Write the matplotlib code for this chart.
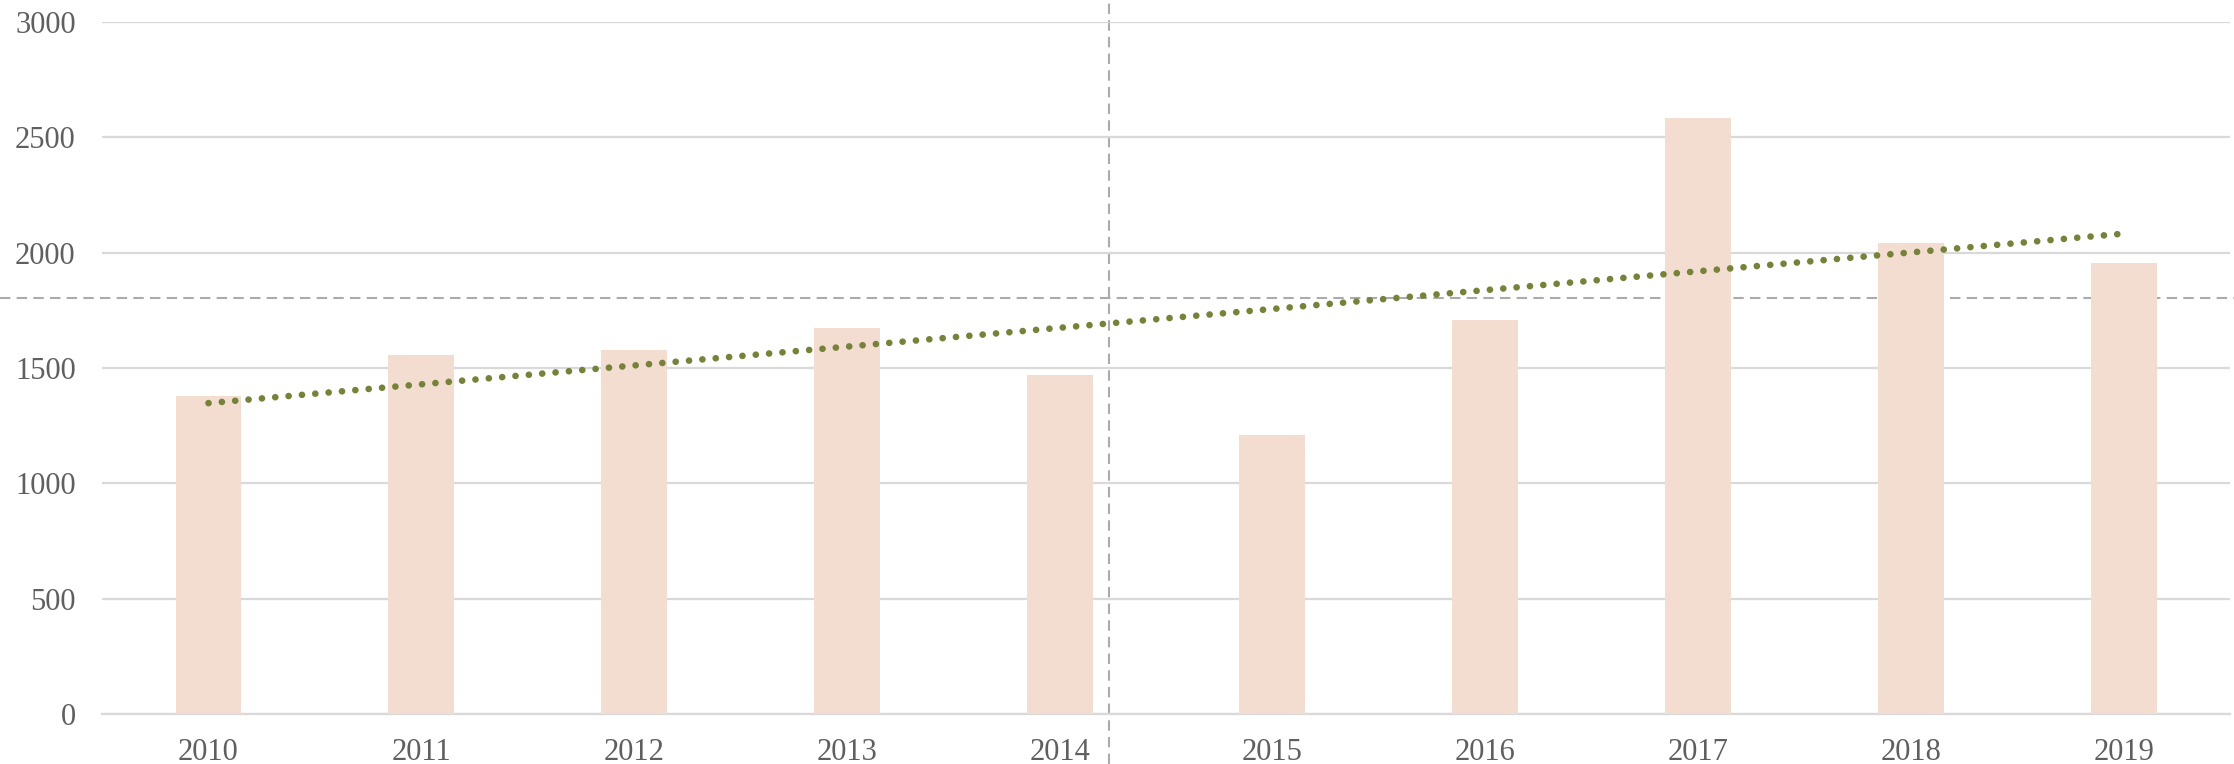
import numpy as np
import matplotlib

matplotlib.use("Agg")
import matplotlib.pyplot as plt
from matplotlib.lines import Line2D

years = ["2010", "2011", "2012", "2013", "2014", "2015", "2016", "2017", "2018", "2019"]
values = [1380, 1555, 1576, 1672, 1471, 1211, 1706, 2582, 2043, 1956]
y_ticks = [0, 500, 1000, 1500, 2000, 2500, 3000]

BAR_COLOR = "#f3ddd1"
TREND_COLOR = "#76823a"
GRID_COLOR = "#d9d9d9"
TEXT_COLOR = "#5f5f5f"
CROSS_COLOR = "#ababab"

plt.rcParams["font.family"] = ["Liberation Serif", "DejaVu Serif"]

fig = plt.figure(figsize=(22.34, 7.64), dpi=100)
ax = fig.add_axes([0.0457, 0.0654, 0.9525, 0.9058])

x = np.arange(len(years))
ax.bar(x, values, width=0.31, color=BAR_COLOR, zorder=3)

# linear trend through the yearly totals
slope, intercept = np.polyfit(x, values, 1)
ax.plot(x, slope * x + intercept, color=TREND_COLOR, lw=4.8,
        linestyle=(0, (0.01, 2.0)), dash_capstyle="round", zorder=4)

ax.set_xlim(-0.5, len(years) - 0.5)
ax.set_ylim(0, 3000)
ax.set_yticks(y_ticks)
ax.set_yticklabels([str(t) for t in y_ticks])
ax.set_xticks(x)
ax.set_xticklabels(years)
ax.yaxis.grid(True, color=GRID_COLOR, lw=1.6, zorder=0)
ax.set_axisbelow(True)
ax.tick_params(axis="both", length=0, labelsize=22, labelcolor=TEXT_COLOR)
ax.tick_params(axis="y", pad=19)
ax.tick_params(axis="x", pad=17)
for side in ["top", "right", "left"]:
    ax.spines[side].set_visible(False)
ax.spines["bottom"].set_color(GRID_COLOR)
ax.spines["bottom"].set_linewidth(1.6)

# hover crosshair spanning the whole figure
cx, cy = 1109 / 2234, 1 - 298 / 764
fig.add_artist(Line2D([cx, cx], [0, 1], transform=fig.transFigure, color=CROSS_COLOR,
                      lw=1.5, linestyle=(0, (5, 3)), zorder=1))
fig.add_artist(Line2D([0, 1], [cy, cy], transform=fig.transFigure, color=CROSS_COLOR,
                      lw=1.5, linestyle=(0, (5, 3)), zorder=1))
# keep bars in front of the horizontal guide
ax.set_zorder(2)
ax.patch.set_alpha(0)

fig.savefig("out.png", dpi=100, facecolor="white")
